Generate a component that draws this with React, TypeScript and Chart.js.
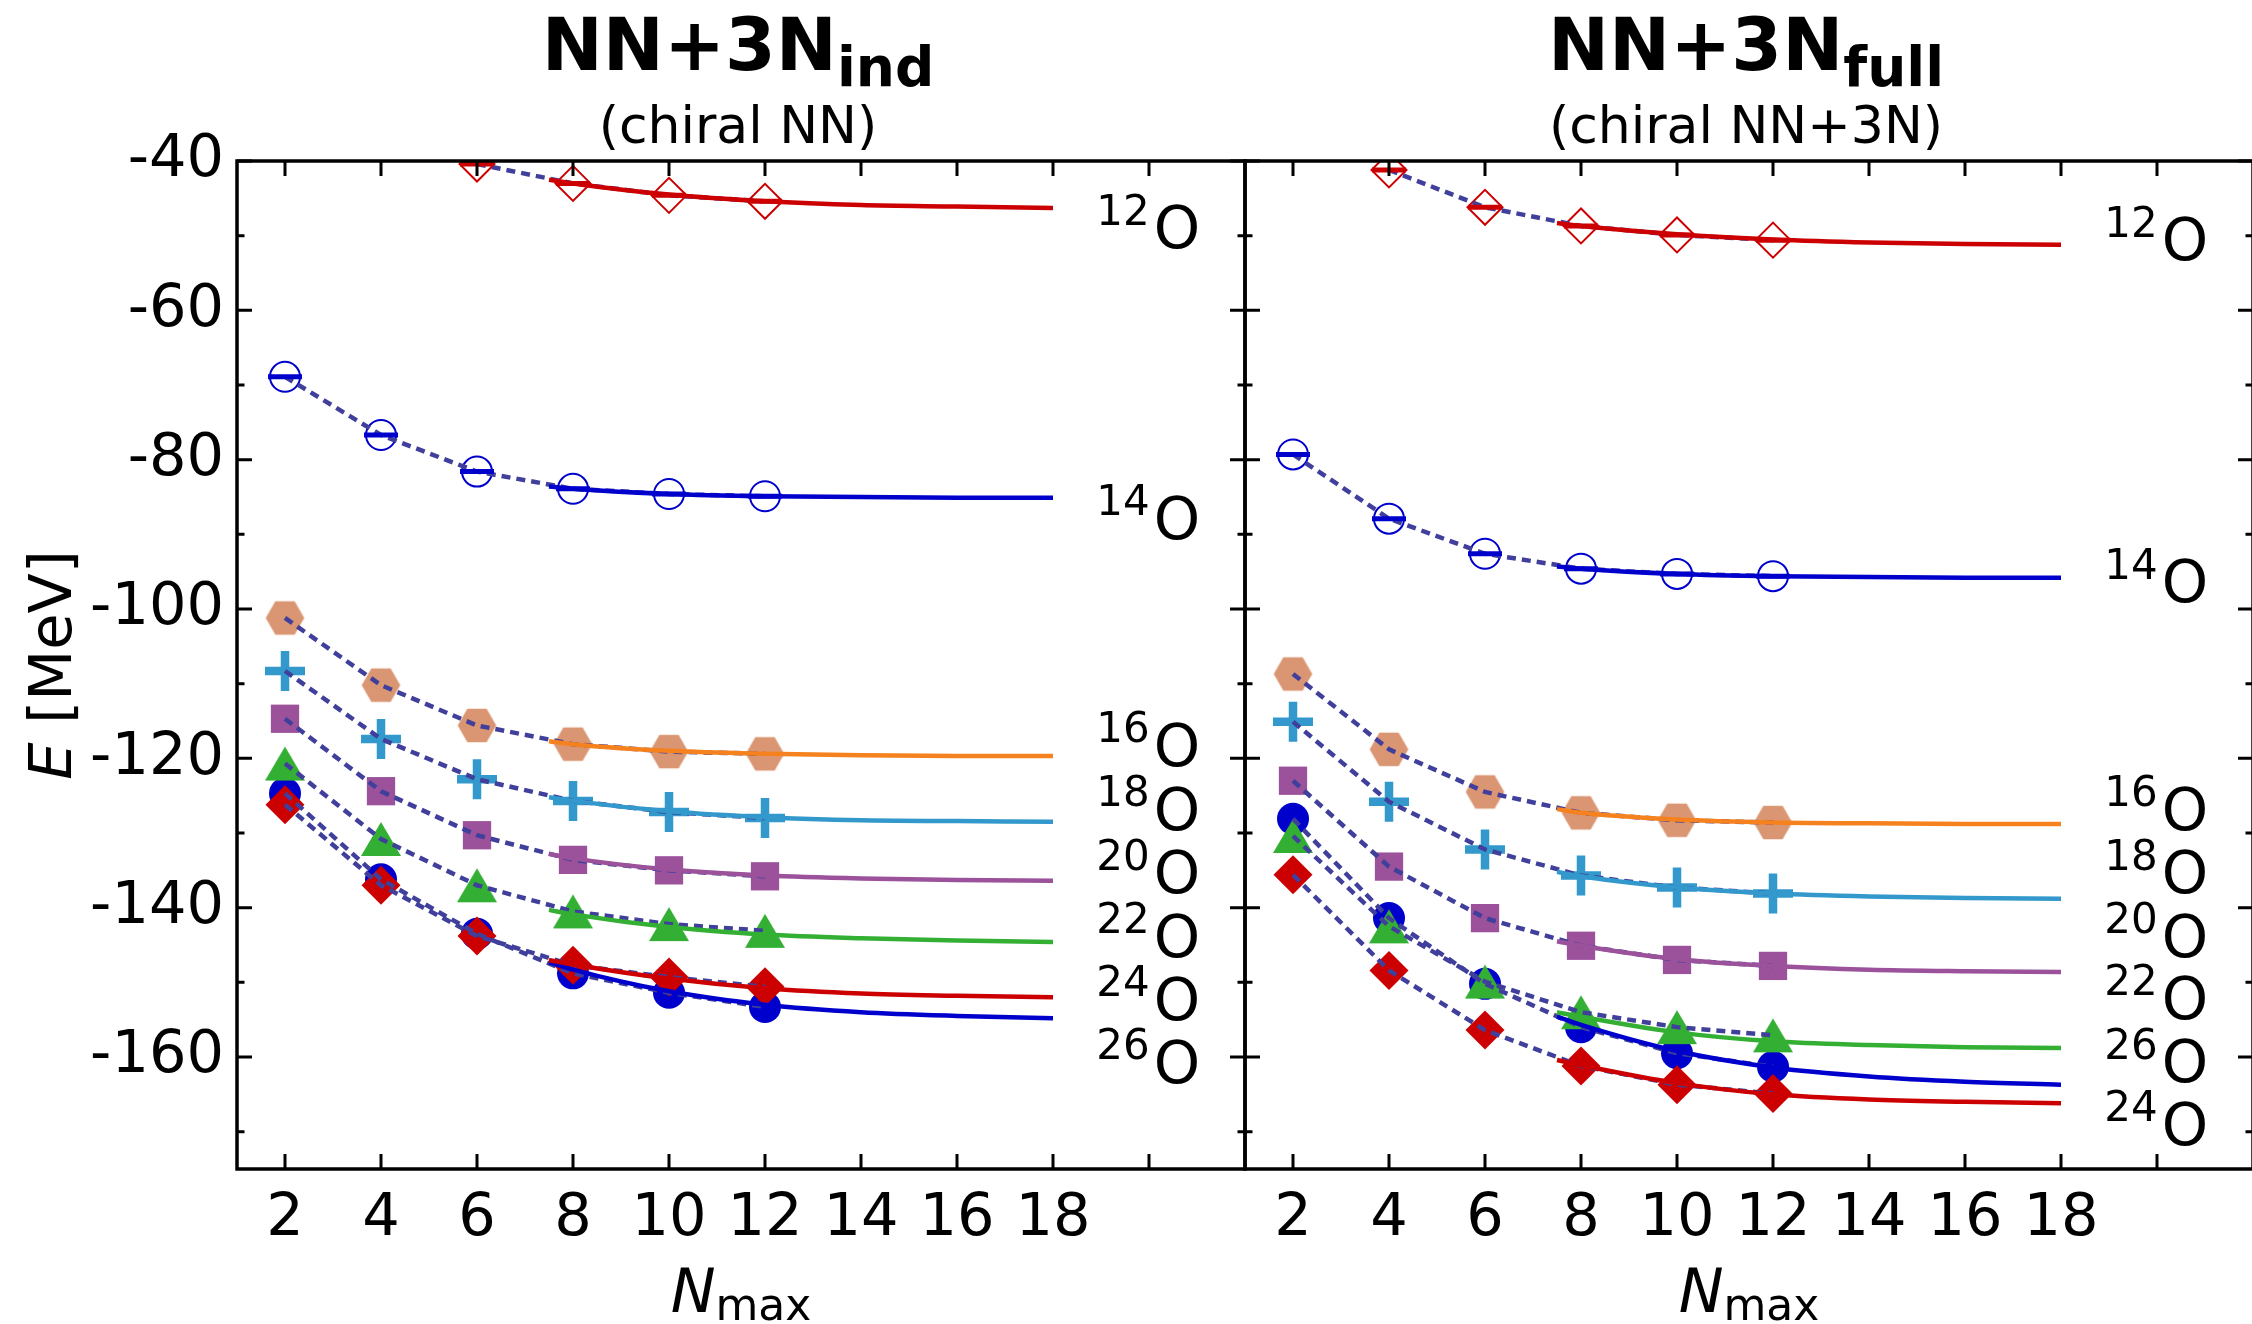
import React, { useEffect, useRef } from 'react';
import { Chart, registerables } from 'chart.js';

Chart.register(...registerables);

const FONT = '"DejaVu Sans", "Liberation Sans", sans-serif';

// ---------------- data ----------------
const NMAX = [2, 4, 6, 8, 10, 12];
const FIT_NMAX = [7.5, 8, 10, 12, 14, 16, 18];
const X_TICKS = [2, 4, 6, 8, 10, 12, 14, 16, 18, 20];
const X_TICK_LABELS = ['2', '4', '6', '8', '10', '12', '14', '16', '18'];
const Y_MAJOR = [-160, -140, -120, -100, -80, -60, -40];
const Y_MINOR = [-170, -150, -130, -110, -90, -70, -50];
const ISOTOPES = ['12', '14', '16', '18', '20', '22', '24', '26'];
const LABEL_NMAX = 18.9;

// NN+3N_ind (chiral NN)
const IND_O12 = [null, null, -40.4, -43.0, -44.6, -45.4];
const IND_O14 = [-68.9, -76.7, -81.6, -83.9, -84.6, -84.9];
const IND_O16 = [-101.2, -110.2, -115.6, -118.1, -119.1, -119.4];
const IND_O18 = [-108.3, -117.4, -122.8, -125.7, -127.2, -128.0];
const IND_O20 = [-114.7, -124.4, -130.3, -133.6, -135.0, -135.8];
const IND_O22 = [-120.7, -130.8, -137.0, -140.5, -142.2, -143.1];
const IND_O24 = [-126.2, -137.0, -143.8, -147.7, -149.3, -150.6];
const IND_O26 = [-124.7, -136.2, -143.5, -148.8, -151.4, -153.3];

const IND_FIT_O12 = [-42.5, -43.0, -44.5, -45.4, -45.9, -46.1, -46.3];
const IND_FIT_O14 = [-83.6, -83.9, -84.6, -84.9, -85.0, -85.1, -85.1];
const IND_FIT_O16 = [-117.7, -118.1, -119.0, -119.4, -119.6, -119.7, -119.7];
const IND_FIT_O18 = [-125.2, -125.7, -127.1, -127.9, -128.3, -128.4, -128.5];
const IND_FIT_O20 = [-132.8, -133.4, -134.9, -135.7, -136.1, -136.3, -136.4];
const IND_FIT_O22 = [-140.3, -140.9, -142.6, -143.6, -144.1, -144.4, -144.6];
const IND_FIT_O24 = [-147.0, -147.6, -149.5, -150.8, -151.5, -151.8, -152.0];
const IND_FIT_O26 = [-147.3, -148.3, -151.2, -153.0, -154.0, -154.5, -154.8];

const IND_LABEL_Y = [-48.8, -87.7, -118.1, -126.7, -135.2, -143.7, -152.1, -160.6];

// NN+3N_full (chiral NN+3N)
const FULL_O12 = [null, -41.2, -46.2, -48.7, -49.9, -50.6];
const FULL_O14 = [-79.3, -87.9, -92.6, -94.6, -95.3, -95.6];
const FULL_O16 = [-108.7, -118.8, -124.5, -127.3, -128.3, -128.6];
const FULL_O18 = [-115.1, -125.8, -132.2, -135.7, -137.3, -138.1];
const FULL_O20 = [-123.0, -134.5, -141.4, -145.1, -147.0, -147.8];
const FULL_O22 = [-130.4, -142.5, -149.9, -154.0, -156.0, -157.1];
const FULL_O24 = [-135.6, -148.4, -156.4, -161.2, -163.7, -164.9];
const FULL_O26 = [-128.1, -141.4, -150.2, -156.0, -159.5, -161.3];

const FULL_FIT_O12 = [-48.3, -48.7, -49.8, -50.5, -50.9, -51.1, -51.2];
const FULL_FIT_O14 = [-94.3, -94.6, -95.3, -95.6, -95.7, -95.8, -95.8];
const FULL_FIT_O16 = [-126.8, -127.3, -128.2, -128.6, -128.7, -128.8, -128.8];
const FULL_FIT_O18 = [-135.2, -135.8, -137.3, -138.1, -138.5, -138.7, -138.8];
const FULL_FIT_O20 = [-144.5, -145.1, -146.9, -147.8, -148.3, -148.5, -148.6];
const FULL_FIT_O22 = [-154.0, -154.6, -156.7, -157.9, -158.4, -158.7, -158.8];
const FULL_FIT_O24 = [-160.4, -161.1, -163.5, -165.0, -165.7, -166.0, -166.2];
const FULL_FIT_O26 = [-154.6, -155.7, -159.2, -161.4, -162.6, -163.3, -163.7];

const FULL_LABEL_Y = [-50.4, -96.2, -126.7, -135.2, -143.7, -152.0, -168.9, -160.5];

// ---------------- styles ----------------
const DOT_COLOR = '#40409C';
const STYLE: Record<string, { line: string; color: string; marker: string; bar?: boolean }> = {
  '12': { line: '#CC0000', color: '#CC0000', marker: 'diamondOpen', bar: true },
  '14': { line: '#0000CC', color: '#0000CC', marker: 'circleOpen', bar: true },
  '16': { line: '#F5821F', color: '#DA9672', marker: 'hexagon' },
  '18': { line: '#3399CC', color: '#3399CC', marker: 'plus' },
  '20': { line: '#9B529B', color: '#9B529B', marker: 'square' },
  '22': { line: '#33B033', color: '#33B033', marker: 'triangle' },
  '24': { line: '#CC0000', color: '#CC0000', marker: 'diamond' },
  '26': { line: '#0000CC', color: '#0000CC', marker: 'circle' },
};
const MARKER_ORDER: Record<string, number> = {
  '24': 10, '22': 11, '26': 12, '20': 13, '18': 14, '16': 15, '14': 16, '12': 17,
};

function makeHexagon(color: string, r: number) {
  const size = Math.ceil(2 * r + 2);
  const c = document.createElement('canvas');
  c.width = size;
  c.height = size;
  const ctx = c.getContext('2d')!;
  ctx.fillStyle = color;
  ctx.beginPath();
  for (let i = 0; i < 6; i++) {
    const a = (Math.PI / 3) * i;
    const px = size / 2 + r * Math.cos(a);
    const py = size / 2 + r * Math.sin(a);
    if (i === 0) ctx.moveTo(px, py);
    else ctx.lineTo(px, py);
  }
  ctx.closePath();
  ctx.fill();
  return c;
}

function makeTriangle(color: string, w: number, h: number) {
  const cw = Math.ceil(w + 2);
  const ch = Math.ceil(h + 2);
  const c = document.createElement('canvas');
  c.width = cw;
  c.height = ch;
  const ctx = c.getContext('2d')!;
  ctx.fillStyle = color;
  ctx.beginPath();
  ctx.moveTo(cw / 2, ch / 2 - h / 2);
  ctx.lineTo(cw / 2 + w / 2, ch / 2 + h / 2);
  ctx.lineTo(cw / 2 - w / 2, ch / 2 + h / 2);
  ctx.closePath();
  ctx.fill();
  return c;
}

function markerProps(kind: string, color: string, shapes: any) {
  switch (kind) {
    case 'diamondOpen':
      return { pointStyle: 'rectRot', pointRadius: 17.5, pointBackgroundColor: 'rgba(0,0,0,0)', pointBorderColor: color, pointBorderWidth: 2 };
    case 'circleOpen':
      return { pointStyle: 'circle', pointRadius: 15, pointBackgroundColor: 'rgba(0,0,0,0)', pointBorderColor: color, pointBorderWidth: 2 };
    case 'hexagon':
      return { pointStyle: shapes.hex, pointRadius: 19 };
    case 'plus':
      return { pointStyle: 'cross', pointRadius: 20, pointBackgroundColor: color, pointBorderColor: color, pointBorderWidth: 8.5 };
    case 'square':
      return { pointStyle: 'rect', pointRadius: 20, pointBackgroundColor: color, pointBorderColor: color, pointBorderWidth: 0 };
    case 'triangle':
      return { pointStyle: shapes.tri, pointRadius: 20 };
    case 'diamond':
      return { pointStyle: 'rectRot', pointRadius: 19.5, pointBackgroundColor: color, pointBorderColor: color, pointBorderWidth: 0 };
    default:
      return { pointStyle: 'circle', pointRadius: 16, pointBackgroundColor: color, pointBorderColor: color, pointBorderWidth: 0 };
  }
}

function buildDatasets(series: (number | null)[][], fits: number[][], shapes: any) {
  const ds: any[] = [];
  ISOTOPES.forEach((iso, k) => {
    const st = STYLE[iso];
    const pts = NMAX.map((n, i) => ({ x: n, y: series[k][i] })).filter((p) => p.y !== null);
    const fitPts = FIT_NMAX.map((n, i) => ({ x: n, y: fits[k][i] }));
    ds.push({
      label: iso + 'O extrapolation',
      data: fitPts,
      showLine: true,
      borderColor: st.line,
      borderWidth: 4.5,
      pointRadius: 0,
      pointHitRadius: 0,
      cubicInterpolationMode: 'monotone',
      order: 1,
      clip: 0,
    });
    ds.push({
      label: iso + 'O dotted',
      data: pts,
      showLine: true,
      borderColor: DOT_COLOR,
      borderWidth: 4.5,
      borderDash: [9, 6],
      pointRadius: 0,
      pointHitRadius: 0,
      order: 3,
      clip: 0,
    });
    if (st.bar) {
      ds.push({
        label: iso + 'O bar',
        data: pts,
        showLine: false,
        pointStyle: 'line',
        pointRadius: 17,
        pointBorderWidth: 5,
        pointBorderColor: st.color,
        pointBackgroundColor: st.color,
        order: 2,
        clip: 0,
      });
    }
    ds.push({
      label: iso + 'O',
      data: pts,
      showLine: false,
      ...markerProps(st.marker, st.color, shapes),
      order: MARKER_ORDER[iso],
      clip: 0,
    });
  });
  return ds;
}

function framePlugin(id: string) {
  return {
    id,
    afterDatasetsDraw(chart: any) {
      const { ctx, chartArea: a, scales } = chart;
      const xs = scales.x;
      const ys = scales.y;
      ctx.save();
      ctx.strokeStyle = '#000';
      ctx.lineWidth = 3;
      ctx.beginPath();
      X_TICKS.forEach((v) => {
        const px = xs.getPixelForValue(v);
        ctx.moveTo(px, a.bottom);
        ctx.lineTo(px, a.bottom - 15);
        ctx.moveTo(px, a.top);
        ctx.lineTo(px, a.top + 15);
      });
      Y_MAJOR.forEach((v) => {
        const py = ys.getPixelForValue(v);
        ctx.moveTo(a.left, py);
        ctx.lineTo(a.left + 15, py);
        ctx.moveTo(a.right, py);
        ctx.lineTo(a.right - 15, py);
      });
      Y_MINOR.forEach((v) => {
        const py = ys.getPixelForValue(v);
        ctx.moveTo(a.left, py);
        ctx.lineTo(a.left + 7.5, py);
        ctx.moveTo(a.right, py);
        ctx.lineTo(a.right - 7.5, py);
      });
      ctx.stroke();
      ctx.lineWidth = 3.5;
      ctx.strokeRect(a.left, a.top, a.right - a.left, a.bottom - a.top);
      ctx.restore();
    },
  };
}

function textPlugin(id: string, spec: any) {
  return {
    id,
    afterDraw(chart: any) {
      const { ctx, chartArea: a, scales } = chart;
      const xs = scales.x;
      const ys = scales.y;
      const cx = (a.left + a.right) / 2;
      ctx.save();
      ctx.fillStyle = '#000';
      ctx.textBaseline = 'alphabetic';
      ctx.textAlign = 'left';

      // title
      ctx.font = `bold 73px ${FONT}`;
      const w1 = ctx.measureText(spec.title).width;
      ctx.font = `bold 55px ${FONT}`;
      const w2 = ctx.measureText(spec.sub).width;
      const tx = cx - (w1 + w2) / 2 - 3;
      ctx.font = `bold 73px ${FONT}`;
      ctx.fillText(spec.title, tx, 70);
      ctx.font = `bold 55px ${FONT}`;
      ctx.fillText(spec.sub, tx + w1, 86);

      // subtitle
      ctx.font = `52px ${FONT}`;
      ctx.textAlign = 'center';
      ctx.fillText(spec.subtitle, cx - 3, 143);
      ctx.textAlign = 'left';

      // x axis label N_max
      ctx.font = `italic 60px ${FONT}`;
      const wn = ctx.measureText('N').width;
      ctx.font = `44px ${FONT}`;
      const wm = ctx.measureText('max').width;
      const lx = cx - (wn + wm) / 2;
      ctx.font = `italic 60px ${FONT}`;
      ctx.fillText('N', lx, 1312);
      ctx.font = `44px ${FONT}`;
      ctx.fillText('max', lx + wn, 1320);

      // y axis label
      if (spec.yLabel) {
        const cy = (a.top + a.bottom) / 2;
        ctx.save();
        ctx.translate(71, cy);
        ctx.rotate(-Math.PI / 2);
        ctx.font = `italic 59px ${FONT}`;
        const we = ctx.measureText('E').width;
        ctx.font = `59px ${FONT}`;
        const wr = ctx.measureText(' [MeV]').width;
        const sx = -(we + wr) / 2;
        ctx.font = `italic 59px ${FONT}`;
        ctx.fillText('E', sx, 0);
        ctx.font = `59px ${FONT}`;
        ctx.fillText(' [MeV]', sx + we, 0);
        ctx.restore();
      }

      // isotope labels
      ISOTOPES.forEach((iso, i) => {
        const px = xs.getPixelForValue(LABEL_NMAX);
        const py = ys.getPixelForValue(spec.labelY[i]);
        ctx.font = `42px ${FONT}`;
        const ws = ctx.measureText(iso).width;
        ctx.fillText(iso, px, py - 2);
        ctx.font = `59px ${FONT}`;
        ctx.fillText('O', px + ws + 4, py + 21.5);
      });
      ctx.restore();
    },
  };
}

function makeConfig(spec: any, shapes: any) {
  return {
    type: 'scatter',
    data: { datasets: buildDatasets(spec.series, spec.fits, shapes) },
    options: {
      responsive: false,
      animation: false,
      devicePixelRatio: 1,
      events: [],
      layout: { autoPadding: false, padding: { top: 161, left: 0, right: spec.padRight, bottom: 0 } },
      plugins: { legend: { display: false }, tooltip: { enabled: false }, title: { display: false } },
      scales: {
        x: {
          type: 'linear',
          position: 'bottom',
          min: 1,
          max: 22,
          grid: { display: false, drawTicks: false },
          border: { display: false },
          afterBuildTicks: (s: any) => {
            s.ticks = X_TICKS.map((v) => ({ value: v }));
          },
          afterFit: (s: any) => {
            s.height = 155;
            s.paddingLeft = 0;
            s.paddingRight = 0;
            s.paddingTop = 0;
            s.paddingBottom = 0;
          },
          ticks: {
            autoSkip: false,
            maxRotation: 0,
            minRotation: 0,
            padding: 15,
            color: '#000',
            font: { family: FONT, size: 59 },
            callback: (v: any) => (X_TICK_LABELS.includes(String(v)) ? String(v) : ''),
          },
        },
        y: {
          type: 'linear',
          position: 'left',
          min: -175,
          max: -40,
          grid: { display: false, drawTicks: false },
          border: { display: false },
          afterBuildTicks: (s: any) => {
            s.ticks = Y_MAJOR.map((v) => ({ value: v }));
          },
          afterFit: (s: any) => {
            s.width = spec.yWidth;
            s.paddingLeft = 0;
            s.paddingRight = 0;
            s.paddingTop = 0;
            s.paddingBottom = 0;
          },
          ticks: {
            display: spec.yLabel,
            autoSkip: false,
            padding: 13,
            color: '#000',
            font: { family: FONT, size: 59 },
            callback: (v: any) => String(v),
          },
        },
      },
    },
    plugins: [framePlugin('frame' + spec.id), textPlugin('text' + spec.id, spec)],
  };
}

export default function App() {
  const leftRef = useRef<HTMLCanvasElement>(null);
  const rightRef = useRef<HTMLCanvasElement>(null);

  useEffect(() => {
    const shapes = {
      hex: makeHexagon(STYLE['16'].color, 19.3),
      tri: makeTriangle(STYLE['22'].color, 40, 34),
    };
    const leftSpec = {
      id: 'L',
      title: 'NN+3N',
      sub: 'ind',
      subtitle: '(chiral NN)',
      series: [IND_O12, IND_O14, IND_O16, IND_O18, IND_O20, IND_O22, IND_O24, IND_O26],
      fits: [IND_FIT_O12, IND_FIT_O14, IND_FIT_O16, IND_FIT_O18, IND_FIT_O20, IND_FIT_O22, IND_FIT_O24, IND_FIT_O26],
      labelY: IND_LABEL_Y,
      yLabel: true,
      yWidth: 237,
      padRight: 7,
    };
    const rightSpec = {
      id: 'R',
      title: 'NN+3N',
      sub: 'full',
      subtitle: '(chiral NN+3N)',
      series: [FULL_O12, FULL_O14, FULL_O16, FULL_O18, FULL_O20, FULL_O22, FULL_O24, FULL_O26],
      fits: [FULL_FIT_O12, FULL_FIT_O14, FULL_FIT_O16, FULL_FIT_O18, FULL_FIT_O20, FULL_FIT_O22, FULL_FIT_O24, FULL_FIT_O26],
      labelY: FULL_LABEL_Y,
      yLabel: false,
      yWidth: 4,
      padRight: 0,
    };
    const c1 = new Chart(leftRef.current as HTMLCanvasElement, makeConfig(leftSpec, shapes) as any);
    const c2 = new Chart(rightRef.current as HTMLCanvasElement, makeConfig(rightSpec, shapes) as any);
    return () => {
      c1.destroy();
      c2.destroy();
    };
  }, []);

  return (
    <div
      style={{
        position: 'fixed',
        left: 0,
        top: 0,
        width: 2252,
        height: 1324,
        background: '#fff',
        overflow: 'hidden',
      }}
    >
      <canvas
        ref={leftRef}
        width={1252}
        height={1324}
        style={{ position: 'absolute', left: 0, top: 0, width: 1252, height: 1324 }}
      />
      <canvas
        ref={rightRef}
        width={1012}
        height={1324}
        style={{ position: 'absolute', left: 1241, top: 0, width: 1012, height: 1324 }}
      />
    </div>
  );
}
